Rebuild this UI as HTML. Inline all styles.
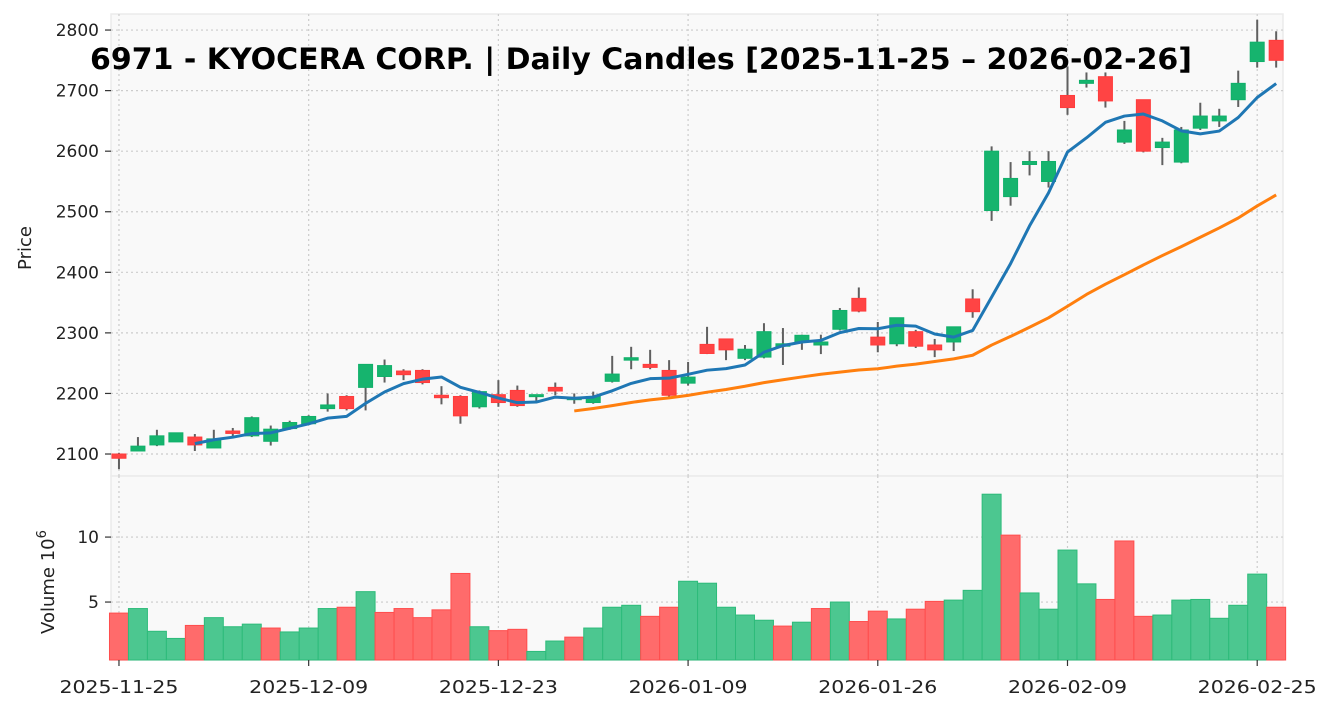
<!DOCTYPE html>
<html><head><meta charset="utf-8"><style>
html,body{margin:0;padding:0;background:#fff;}
svg{display:block;font-family:"DejaVu Sans","Liberation Sans",sans-serif;}
</style></head><body>
<svg id="chart" width="1331" height="711" viewBox="0 0 1331 711" xmlns="http://www.w3.org/2000/svg"></svg>
<script>
const dates=["2025-11-25","2025-12-09","2025-12-23","2026-01-09","2026-01-26","2026-02-09","2026-02-25"];
const dateIdx=[0,10,20,30,40,50,60];
const opens=[2100,2105,2115,2120,2128,2110,2138,2130,2121,2142,2150,2175,2195,2210,2228,2237,2238,2197,2195,2178,2198,2205,2195,2210,2190,2185,2220,2255,2248,2238,2217,2281,2290,2258,2260,2278,2285,2280,2306,2357,2293,2282,2302,2280,2285,2356,2502,2525,2578,2550,2692,2712,2723,2615,2685,2606,2582,2638,2650,2685,2748,2783];
const highs=[2102,2128,2140,2135,2133,2140,2143,2162,2147,2155,2164,2200,2197,2248,2256,2240,2240,2212,2197,2205,2222,2213,2198,2218,2200,2203,2262,2277,2272,2255,2252,2310,2290,2280,2316,2308,2297,2297,2341,2375,2318,2325,2305,2290,2310,2372,2608,2582,2600,2600,2740,2730,2730,2650,2685,2622,2640,2680,2670,2733,2817,2798];
const lows=[2075,2105,2113,2120,2105,2110,2128,2128,2114,2140,2148,2170,2172,2172,2218,2222,2215,2182,2150,2175,2178,2178,2188,2197,2183,2183,2218,2240,2240,2195,2213,2265,2255,2255,2258,2247,2272,2265,2304,2334,2268,2278,2275,2260,2270,2325,2485,2510,2560,2540,2660,2705,2672,2612,2598,2577,2580,2635,2640,2673,2738,2738];
const closes=[2093,2113,2130,2135,2115,2125,2134,2160,2141,2152,2162,2181,2175,2248,2246,2231,2218,2193,2163,2203,2185,2180,2198,2204,2193,2195,2232,2259,2243,2197,2227,2266,2272,2273,2302,2282,2296,2285,2337,2336,2280,2325,2278,2272,2310,2335,2600,2555,2583,2583,2672,2717,2683,2635,2600,2615,2635,2658,2658,2712,2780,2750];
const volumes=[4.15,4.5,2.75,2.2,3.2,3.8,3.1,3.3,3.0,2.7,3.0,4.5,4.6,5.8,4.2,4.5,3.8,4.4,7.2,3.1,2.8,2.9,1.2,2.0,2.3,3.0,4.6,4.75,3.9,4.6,6.6,6.45,4.6,4.0,3.6,3.15,3.45,4.5,5.0,3.5,4.3,3.7,4.45,5.05,5.15,5.9,13.3,10.15,5.7,4.45,9.0,6.4,5.2,9.7,3.9,4.0,5.15,5.2,3.75,4.75,7.15,4.6];
const priceTicks=[2100,2200,2300,2400,2500,2600,2700,2800];
const volTicks=[5,10];

const NS="http://www.w3.org/2000/svg";
const svg=document.getElementById('chart');
const L=111,R=1283,PT=14,PB=476,VT=476,VB=660;
const pMin=2063.7,pMax=2826.5,vMin=0.54,vMax=14.7;
const xOf=i=>L+(i+0.42)/(61.78)*(R-L);
const yP=p=>PB-(p-pMin)/(pMax-pMin)*(PB-PT);
const yV=v=>VB-(v-vMin)/(vMax-vMin)*(VB-VT);
function el(tag,attrs,parent){const e=document.createElementNS(NS,tag);for(const k in attrs)e.setAttribute(k,attrs[k]);(parent||svg).appendChild(e);return e;}

let bg1=el('rect',{x:L,y:PT,width:R-L,height:PB-PT,fill:'#f9f9f9',stroke:'#ebebeb','stroke-width':1.5});


let bg2=el('rect',{x:L,y:VT,width:R-L,height:VB-VT,fill:'#f9f9f9',stroke:'#ebebeb','stroke-width':1.5});



const grid=el('g',{stroke:'#cccccc','stroke-width':1.2,'stroke-dasharray':'2,3'});


dateIdx.forEach(i=>{el('line',{x1:xOf(i),x2:xOf(i),y1:PT,y2:PB},grid);el('line',{x1:xOf(i),x2:xOf(i),y1:VT,y2:VB},grid);});
priceTicks.forEach(p=>el('line',{x1:L,x2:R,y1:yP(p),y2:yP(p)},grid));
volTicks.forEach(v=>el('line',{x1:L,x2:R,y1:yV(v),y2:yV(v)},grid));

const bw=(R-L)/61.78;
volumes.forEach((v,i)=>{
  const up=i>0&&closes[i]>=closes[i-1];
  const r=el('rect',{x:xOf(i)-bw/2,y:yV(v),width:bw,height:VB-yV(v),fill:up?'#4cc790':'#ff6b6b',stroke:up?'#2dbb7a':'#ff4d4d','stroke-width':1});
  
  
});

const cw=14;
opens.forEach((o,i)=>{
  const c=closes[i],up=c>=o;
  const g=el('g',{});
  
  
  el('line',{x1:xOf(i),x2:xOf(i),y1:yP(highs[i]),y2:yP(lows[i]),stroke:'#606060','stroke-width':2},g);
  const top=yP(Math.max(o,c)),h=Math.max(2,Math.abs(yP(o)-yP(c)));
  el('rect',{x:xOf(i)-cw/2,y:top,width:cw,height:h,fill:up?'#16b46e':'#ff4444',stroke:up?'#10b06a':'#ff3c3c','stroke-width':1},g);
});

function sma(n){const out=[];for(let i=n-1;i<closes.length;i++){let s=0;for(let j=i-n+1;j<=i;j++)s+=closes[j];out.push([i,s/n]);}return out;}
function line(pts,color,name){const p=el('polyline',{points:pts.map(([i,v])=>xOf(i)+','+yP(v)).join(' '),fill:'none',stroke:color,'stroke-width':3,'stroke-linejoin':'round'});

}
line(sma(25),'#ff7f0e','ma25-line');
line(sma(5),'#1f77b4','ma5-line');

const ax=el('g',{fill:'#222','font-size':17});


priceTicks.forEach(p=>{el('line',{x1:L-6,x2:L,y1:yP(p),y2:yP(p),stroke:'#333','stroke-width':1.2},ax);
  const t=el('text',{x:L-12,y:yP(p)+6,'text-anchor':'end'},ax);t.textContent=p;
  
  });
volTicks.forEach(v=>{el('line',{x1:L-6,x2:L,y1:yV(v),y2:yV(v),stroke:'#333','stroke-width':1.2},ax);
  const t=el('text',{x:L-12,y:yV(v)+6,'text-anchor':'end'},ax);t.textContent=v;
  
  });
dateIdx.forEach((i,k)=>{el('line',{x1:xOf(i),x2:xOf(i),y1:VB,y2:VB+6,stroke:'#333','stroke-width':1.2},ax);
  const t=el('text',{x:xOf(i),y:VB+33,'text-anchor':'middle','font-size':18,textLength:119,lengthAdjust:'spacingAndGlyphs'},ax);t.textContent=dates[k];
  
  });
let yl=el('text',{x:31,y:248,'text-anchor':'middle','font-size':18,transform:'rotate(-90 31 248)'},ax);yl.textContent='Price';


let vl=el('text',{x:54,y:582,'text-anchor':'middle','font-size':18,transform:'rotate(-90 54 582)'},ax);
vl.innerHTML='Volume  10<tspan dy="-8" font-size="13">6</tspan>';



let tt=el('text',{x:641,y:69,'text-anchor':'middle','font-size':29,'font-weight':'bold',fill:'#000',textLength:1102,lengthAdjust:'spacingAndGlyphs'});
tt.textContent='6971 - KYOCERA CORP. | Daily Candles [2025-11-25 – 2026-02-26]';


</script>
</body></html>
